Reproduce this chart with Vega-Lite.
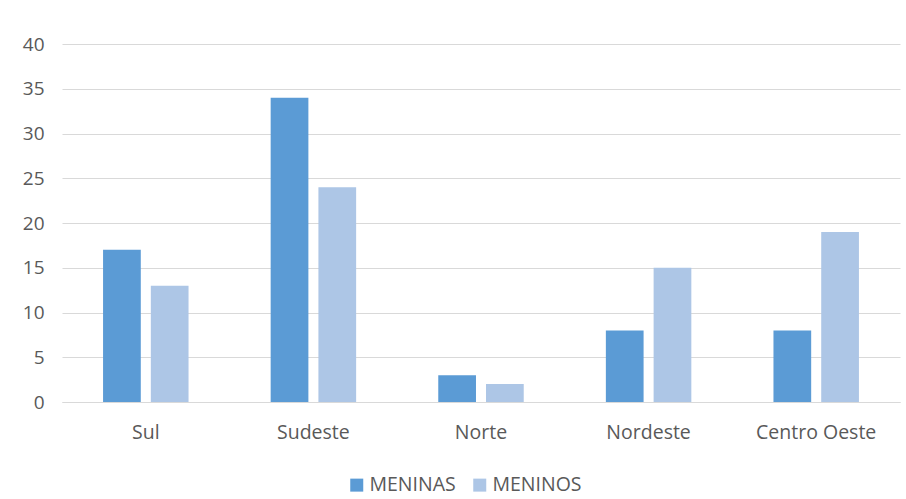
{
  "$schema": "https://vega.github.io/schema/vega-lite/v6.json",
  "width": 838,
  "height": 358,
  "autosize": "none",
  "padding": {"left": 62, "top": 44, "right": 6, "bottom": 97},
  "background": "white",
  "data": {
    "values": [
      {"regiao": "Sul", "grupo": "MENINAS", "valor": 17},
      {"regiao": "Sul", "grupo": "MENINOS", "valor": 13},
      {"regiao": "Sudeste", "grupo": "MENINAS", "valor": 34},
      {"regiao": "Sudeste", "grupo": "MENINOS", "valor": 24},
      {"regiao": "Norte", "grupo": "MENINAS", "valor": 3},
      {"regiao": "Norte", "grupo": "MENINOS", "valor": 2},
      {"regiao": "Nordeste", "grupo": "MENINAS", "valor": 8},
      {"regiao": "Nordeste", "grupo": "MENINOS", "valor": 15},
      {"regiao": "Centro Oeste", "grupo": "MENINAS", "valor": 8},
      {"regiao": "Centro Oeste", "grupo": "MENINOS", "valor": 19}
    ]
  },
  "mark": {"type": "bar"},
  "encoding": {
    "x": {
      "field": "regiao",
      "type": "nominal",
      "sort": ["Sul", "Sudeste", "Norte", "Nordeste", "Centro Oeste"],
      "scale": {"paddingInner": 0.49, "paddingOuter": 0.245},
      "axis": {
        "title": null,
        "labelAngle": 0,
        "ticks": false,
        "domain": true,
        "domainColor": "#d9d9d9",
        "labelPadding": 21,
        "labelFont": "Open Sans",
        "labelFontSize": 19.5,
        "labelColor": "#595959"
      }
    },
    "xOffset": {
      "field": "grupo",
      "type": "nominal",
      "scale": {"paddingInner": 0.21, "paddingOuter": 0}
    },
    "y": {
      "field": "valor",
      "type": "quantitative",
      "scale": {"domain": [0, 40], "nice": false},
      "axis": {
        "title": null,
        "values": [0, 5, 10, 15, 20, 25, 30, 35, 40],
        "ticks": false,
        "domain": false,
        "gridColor": "#d9d9d9",
        "gridWidth": 1,
        "labelPadding": 18,
        "labelFont": "Open Sans",
        "labelFontSize": 19,
        "labelColor": "#595959"
      }
    },
    "color": {
      "field": "grupo",
      "type": "nominal",
      "scale": {"domain": ["MENINAS", "MENINOS"], "range": ["#5b9bd5", "#adc6e6"]},
      "legend": {
        "title": null,
        "orient": "none",
        "direction": "horizontal",
        "legendX": 285,
        "legendY": 431,
        "symbolType": "square",
        "symbolSize": 169,
        "symbolStrokeWidth": 0,
        "labelFont": "Open Sans",
        "labelFontSize": 19.5,
        "labelColor": "#595959",
        "columnPadding": 14,
        "labelOffset": 3
      }
    }
  },
  "config": {"view": {"stroke": null}}
}
